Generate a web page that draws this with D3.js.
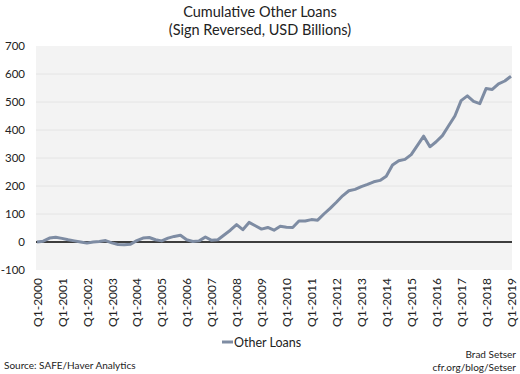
<!DOCTYPE html>
<html><head><meta charset="utf-8">
<script src="https://cdn.jsdelivr.net/npm/d3@7"></script>
<style>body{margin:0;background:#fff}svg{display:block}text{font-family:Lato,"Open Sans",sans-serif;fill:#222}</style>
</head><body><svg id="c" width="520" height="374"></svg>
<script>
const years = d3.range(2000, 2020);
const tickLabels = years.map(y => "Q1-" + y);
const seriesName = "Other Loans";
const values = [
  0, 3, 14, 17,
  13, 8, 4, 0,
  -4, 0, 2, 5,
  -3, -9, -10, -8,
  5, 14, 16, 8,
  4, 14, 20, 24,
  8, 2, 4, 18,
  6, 8, 25, 42,
  62, 44, 70, 58,
  46, 52, 42, 56,
  53, 52, 75, 75,
  80, 78, 100, 120,
  142, 165, 183, 188,
  198, 206, 215, 220,
  235, 275, 290, 295,
  312, 345, 378, 340,
  358, 380, 415, 450,
  505, 522, 502, 494,
  548, 545, 565, 575,
  592
];
const quarters = values.map((v, i) => "Q" + (i % 4 + 1) + "-" + (2000 + Math.floor(i / 4)));
const yTicks = [-100, 0, 100, 200, 300, 400, 500, 600, 700];

const svg = d3.select("#c");
const L = 36, R = 512, T = 46, B = 270;
const x = d3.scalePoint().domain(quarters).range([L + 1, R - 1]);
const y = d3.scaleLinear().domain([-100, 700]).range([B, T]);

svg.append("rect").attr("x", L).attr("y", T).attr("width", R - L).attr("height", B - T).attr("fill", "#f3f3f3");

svg.append("g").selectAll("line").data(yTicks.filter(d => d !== 0 && d !== -100 && d !== 700)).join("line")
  .attr("x1", L).attr("x2", R).attr("y1", d => y(d)).attr("y2", d => y(d))
  .attr("stroke", "#e4e4e4").attr("stroke-width", 1);

const yAxis = svg.append("g").attr("transform", `translate(${L},0)`)
  .call(d3.axisLeft(y).tickValues(yTicks).tickFormat(d => String(d)).tickSize(0).tickPadding(11));
yAxis.select(".domain").remove();
yAxis.selectAll("text").attr("font-size", 11.5).attr("fill", "#222").style("font-family", "Lato, sans-serif");

svg.append("line").attr("x1", L).attr("x2", R).attr("y1", y(0)).attr("y2", y(0))
  .attr("stroke", "#000").attr("stroke-width", 1.5);

const xAxis = svg.append("g").attr("transform", `translate(0,${B})`)
  .call(d3.axisBottom(x).tickValues(tickLabels).tickSize(0));
xAxis.select(".domain").remove();
xAxis.selectAll("text").attr("font-size", 12).attr("fill", "#222").style("font-family", "Lato, sans-serif")
  .attr("transform", "rotate(-90)").attr("text-anchor", "end").attr("dy", "0.35em").attr("x", -8).attr("y", 0);

svg.append("path").datum(values)
  .attr("d", d3.line().x((d, i) => x(quarters[i])).y(d => y(d)))
  .attr("fill", "none").attr("stroke", "#7e8ca3").attr("stroke-width", 3).attr("stroke-linejoin", "round");

svg.append("text").attr("x", 260).attr("y", 17).attr("text-anchor", "middle").attr("font-size", 14.5).text("Cumulative Other Loans");
svg.append("text").attr("x", 260).attr("y", 35).attr("text-anchor", "middle").attr("font-size", 14.5).text("(Sign Reversed, USD Billions)");

svg.append("line").attr("x1", 222).attr("x2", 233).attr("y1", 342).attr("y2", 342).attr("stroke", "#7e8ca3").attr("stroke-width", 3);
svg.append("text").attr("x", 234).attr("y", 346.5).attr("font-size", 12.5).text(seriesName);

svg.append("text").attr("x", 4).attr("y", 369).attr("font-size", 10).text("Source: SAFE/Haver Analytics");
svg.append("text").attr("x", 516).attr("y", 358).attr("text-anchor", "end").attr("font-size", 10).text("Brad Setser");
svg.append("text").attr("x", 516).attr("y", 371).attr("text-anchor", "end").attr("font-size", 10).text("cfr.org/blog/Setser");
</script></body></html>
